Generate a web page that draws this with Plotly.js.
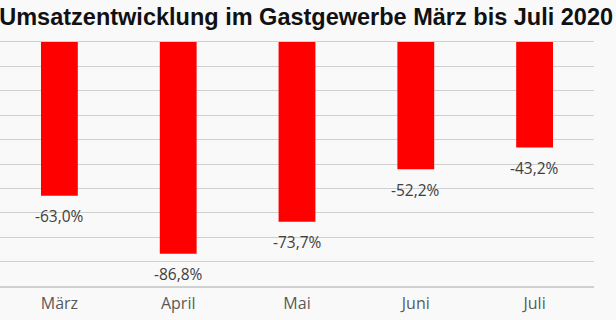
<!DOCTYPE html>
<html>
<head>
<meta charset="utf-8">
<script src="https://cdn.plot.ly/plotly-3.0.1.min.js"></script>
<style>
html,body{margin:0;padding:0;background:#f9f9f9;}
#chart{width:616px;height:320px;}
</style>
</head>
<body>
<div id="chart"></div>
<script>
const months = ["März", "April", "Mai", "Juni", "Juli"];
const changePct = [-63.0, -86.8, -73.7, -52.2, -43.2];
const titleText = "Umsatzentwicklung im Gastgewerbe März bis Juli 2020";

const fmt = v => v.toFixed(1).replace('.', ',') + '%';

const trace = {
  type: 'bar',
  x: months,
  y: changePct,
  marker: {color: '#ff0000'},
  hoverinfo: 'none'
};

const annotations = months.map((m, i) => ({
  x: m, y: changePct[i], xref: 'x', yref: 'y',
  text: fmt(changePct[i]),
  showarrow: false,
  yanchor: 'middle',
  yshift: -20.5,
  font: {family: 'Open Sans', size: 15.5, color: '#404040'}
}));

const layout = {
  width: 616, height: 320,
  margin: {l: 0, r: 22, t: 42, b: 34, pad: 0},
  paper_bgcolor: '#f9f9f9',
  plot_bgcolor: '#f9f9f9',
  bargap: 0.69,
  showlegend: false,
  title: {
    text: '<b>' + titleText + '</b>',
    font: {family: 'Liberation Sans, Arial', size: 23.5, color: '#111111'},
    xref: 'container', yref: 'container',
    x: 0.497, xanchor: 'center',
    y: 0.947, yanchor: 'middle'
  },
  xaxis: {
    type: 'category',
    showgrid: false,
    showline: true, mirror: true,
    linecolor: '#d0d0d0', linewidth: 1.5,
    ticks: '',
    tickfont: {family: 'Open Sans', size: 16, color: '#595959'},
    ticklabelstandoff: 2,
    fixedrange: true
  },
  yaxis: {
    range: [-100, 0],
    dtick: 10,
    showticklabels: false,
    showgrid: true,
    gridcolor: '#d0d0d0',
    gridwidth: 1,
    zeroline: false,
    showline: false,
    ticks: '',
    fixedrange: true
  },
  annotations: annotations
};

Plotly.newPlot('chart', [trace], layout, {displayModeBar: false, staticPlot: true});
</script>
</body>
</html>
